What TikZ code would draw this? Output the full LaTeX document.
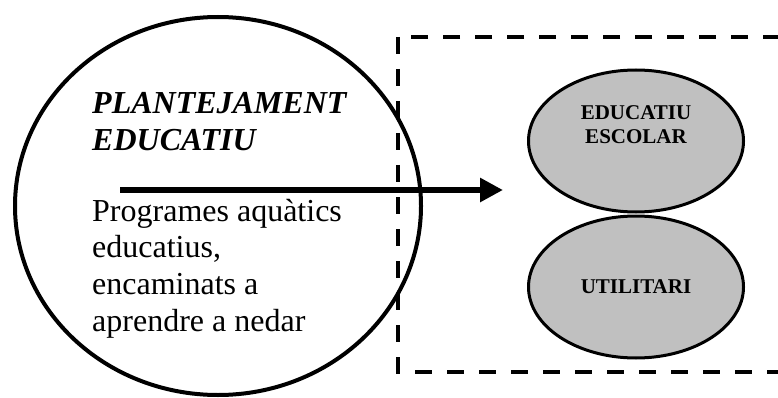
\documentclass[tikz,border=0pt]{standalone}
\usepackage{fontspec}
\setmainfont{Liberation Serif}
\usetikzlibrary{shapes.geometric}
\usetikzlibrary{positioning,arrows.meta}
\definecolor{silver}{RGB}{192,192,192}
\newcommand{\bigtext}{\fontsize{32}{36.6}\selectfont}
\newcommand{\smalltext}{\fontsize{21}{24}\selectfont\bfseries}

\begin{document}
\begin{tikzpicture}[x=1pt,y=-1pt,node distance=146pt,on grid,
		>={Triangle[length=23pt,width=23pt]},
		oval/.style={ellipse,draw=black,fill=silver,line width=3pt,inner sep=0pt,
			minimum width=215pt,minimum height=142pt,font=\smalltext},
		ovaltext/.style={font=\smalltext,align=center,inner sep=0pt},
		plaintext/.style={anchor=base west,align=left,inner sep=0pt}]
		\useasboundingbox (0,0) rectangle (778,398);
		\clip (0,0) rectangle (778,398);
		
		\node[ellipse,draw=black,line width=4pt,inner sep=0pt,
			minimum width=406pt,minimum height=378pt] (plan) at (218,206) {};
		% base of a multi-line node = baseline of its last line
		\node[plaintext,font=\bigtext\bfseries\itshape] (title) at (92,150)
			{PLANTEJAMENT\\EDUCATIU};
		\node[plaintext,font=\bigtext] (body) at (92,331)
			{Programes aquàtics\\educatius,\\encaminats a\\aprendre a nedar};
		
		% dashed frame, open to the right
		\draw[line width=3.5pt,dash pattern=on 17pt off 15pt] (398,37) rectangle (830,372);
		
		\coordinate (tail) at (120,190);
		\coordinate (head) at (503,190);
		\draw[->,line width=6pt] (tail) -- (head);
		
		\node[oval,label={[ovaltext,yshift=16pt]center:{EDUCATIU\\ESCOLAR}}] (escolar) at (636,141) {};
		\node[oval] (utilitari) [below=of escolar] {UTILITARI};
		
		\end{tikzpicture}
\end{document}
